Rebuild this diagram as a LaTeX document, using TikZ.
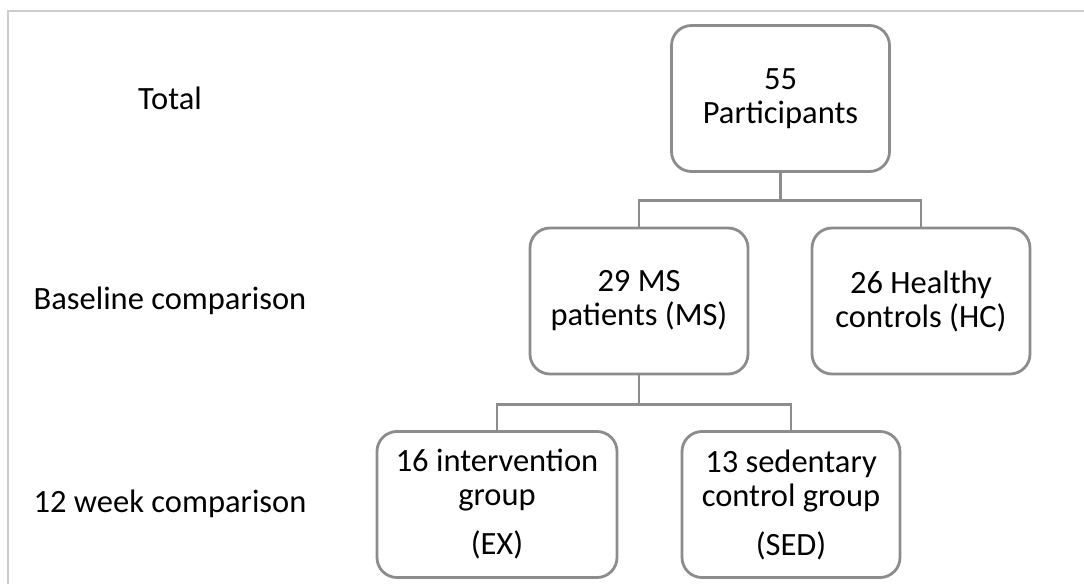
\documentclass[tikz,border=0pt]{standalone}
\usepackage{fontspec}
\setmainfont{Carlito}
\usetikzlibrary{positioning}

\begin{document}
\begin{tikzpicture}[x=1pt,y=1pt,node distance=282pt,
	box/.style={draw=black!45,line width=2.8pt,rounded corners=20pt,align=center,
		minimum width=218pt,minimum height=146pt,font=\fontsize{32.5}{34}\selectfont},
	stage/.style={font=\fontsize{32.5}{34}\selectfont},
	conn/.style={draw=black!45,line width=2.8pt}]
		\useasboundingbox (0,0) rectangle (1084,584);
		\draw[black!20,line width=1.5pt] (8,0) -- (8,573) -- (1084,573);

		\node[box]                   (tot) at (780.5,485.5) {55\\Participants};
		\node[box]                   (ms)  at (639,283)     {29 MS\\patients (MS)};
		\node[box]                   (hc)  [right of = ms]  {26 Healthy\\controls (HC)};
		\node[box,minimum width=240pt] (ex) at (497,79.5)   {16 intervention\\group\\[15pt](EX)};
		\node[box]                   (sed) [right of = ex, node distance=294pt] {13 sedentary\\control group\\[15pt](SED)};

		\node[stage] (t0) at (170,486) {Total};
		\node[stage] (t1) at (170,283) {Baseline comparison};
		\node[stage] (t2) at (170,80)  {12 week comparison};

		\coordinate[below=28pt of tot] (j1);
		\coordinate[below=29pt of ms]  (j2);

		\path[conn] (tot) -- (j1);
		\path[conn] (ms) |- (j1) -| (hc);
		\path[conn] (ms) -- (j2);
		\path[conn] (ex) |- (j2) -| (sed);
	\end{tikzpicture}
\end{document}
